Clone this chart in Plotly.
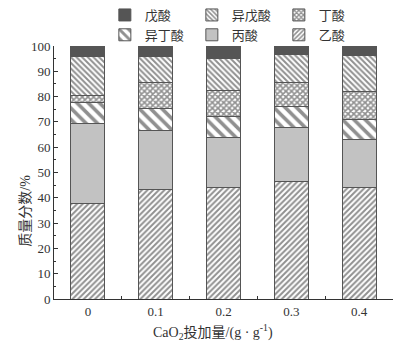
import plotly.graph_objects as go

# CaO2 dosage categories
doses = ["0", "0.1", "0.2", "0.3", "0.4"]

# Mass fractions (%) of each volatile fatty acid, stacked bottom to top
acetic = [37.8, 43.1, 44.0, 46.4, 44.0]        # 乙酸
propionic = [31.6, 23.7, 19.8, 21.3, 19.2]     # 丙酸
isobutyric = [8.3, 8.6, 8.2, 8.3, 7.9]         # 异丁酸
butyric = [2.9, 10.2, 10.6, 9.6, 10.9]         # 丁酸
isovaleric = [15.2, 10.4, 12.5, 11.1, 14.2]    # 异戊酸
valeric = [4.2, 4.0, 4.9, 3.3, 3.8]            # 戊酸

names = ["乙酸", "丙酸", "异丁酸", "丁酸", "异戊酸", "戊酸"]
series = [acetic, propionic, isobutyric, butyric, isovaleric, valeric]
# lower row of the legend holds the first three, upper row the last three
legend_ids = ["legend2", "legend2", "legend2", "legend", "legend", "legend"]

edge = "#555555"
ink = "#222222"
styles = [
    dict(color="white", pattern=dict(shape="/", size=4, solidity=0.5, fgcolor=ink)),
    dict(color="#c2c2c2"),
    dict(color="white", pattern=dict(shape="\\", size=8, solidity=0.45, fgcolor=ink)),
    dict(color="white", pattern=dict(shape="x", size=4, solidity=0.65, fgcolor=ink)),
    dict(color="white", pattern=dict(shape="\\", size=4, solidity=0.5, fgcolor=ink)),
    dict(color="#555555"),
]

serif = "Liberation Serif, Noto Sans CJK SC, serif"

fig = go.Figure()
for name, vals, st, lg in zip(names, series, styles, legend_ids):
    marker = dict(line=dict(color=edge, width=1), **st)
    fig.add_trace(go.Bar(x=doses, y=vals, name=name, marker=marker, width=0.5, legend=lg))

legend_common = dict(
    orientation="h",
    traceorder="reversed",
    x=0.15,
    xanchor="left",
    yref="container",
    yanchor="top",
    entrywidth=42,
    entrywidthmode="pixels",
    itemwidth=30,
    font=dict(size=13, family=serif),
    bgcolor="rgba(0,0,0,0)",
)

fig.update_layout(
    barmode="stack",
    width=406,
    height=348,
    margin=dict(l=54, r=13, t=46, b=49, autoexpand=False),
    paper_bgcolor="white",
    plot_bgcolor="white",
    font=dict(family=serif, size=13, color="#333333"),
    legend=dict(y=1.0, **legend_common),
    legend2=dict(y=0.943, **legend_common),
    showlegend=True,
)

fig.update_yaxes(
    range=[0, 100],
    dtick=10,
    ticks="inside",
    ticklen=4,
    showline=True,
    linecolor="#333333",
    linewidth=1,
    showgrid=False,
    zeroline=False,
    minor=dict(ticks="inside", ticklen=2, dtick=5, tickcolor="#333333"),
    tickcolor="#333333",
    tickfont=dict(size=13, family=serif),
)

fig.update_xaxes(
    type="category",
    range=[-0.5, 4.5],
    ticks="inside",
    tickson="boundaries",
    ticklen=3,
    tickcolor="#333333",
    showline=True,
    linecolor="#333333",
    linewidth=1,
    showgrid=False,
    tickfont=dict(size=13, family=serif),
)

fig.add_annotation(
    text="CaO<sub>2</sub>投加量/(g · g<sup>-1</sup>)",
    xref="paper", yref="paper",
    x=0.47, y=-0.13,
    xanchor="center", yanchor="middle",
    showarrow=False,
    font=dict(size=14, family=serif),
)

fig.add_annotation(
    text="质量分数/%",
    xref="paper", yref="paper",
    x=-0.085, y=0.35,
    xanchor="center", yanchor="middle",
    textangle=-90,
    showarrow=False,
    font=dict(size=14, family=serif),
)

fig.write_html("out.html")
